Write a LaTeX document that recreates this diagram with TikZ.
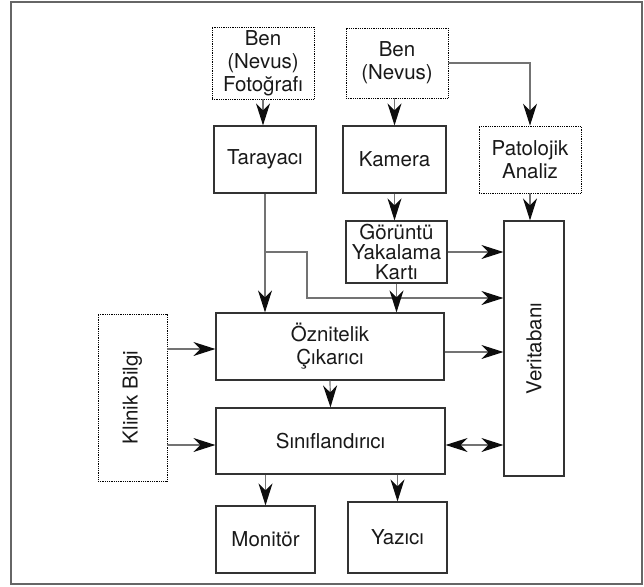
\documentclass[tikz,border=0pt]{standalone}
\usepackage{fontspec}
\setmainfont{TeX Gyre Heros}
\usetikzlibrary{arrows.meta,calc}
\tikzset{
  box/.style={draw=black!80, line width=1.2pt, rectangle, inner sep=0pt, align=center,
    font=\fontsize{20.5}{23}\selectfont, text=black!90},
  dbox/.style={box, draw=black, line width=0.8pt, densely dotted},
  conn/.style={draw=black!55, line width=1.2pt},
  tip/.style={},
  arr/.style={conn, -{Stealth[length=22pt,width=14pt,inset=7pt,color=black!95]}},
  darr/.style={conn, {Stealth[length=22pt,width=14pt,inset=7pt,color=black!95]}-{Stealth[length=22pt,width=14pt,inset=7pt,color=black!95]}},
}
\begin{document}
\begin{tikzpicture}[x=1pt,y=-1pt]
\useasboundingbox (0,0) rectangle (644,586);
\draw[draw=black!60, line width=1.2pt] (11,2) rectangle (642,584);

\node[dbox, minimum width=102pt, minimum height=72pt] (benf) at (263,63) {Ben\\(Nevus)\\Fotoğrafı};
\node[dbox, minimum width=102pt, minimum height=70pt] (bn) at (397,63) {Ben\\(Nevus)};
\node[box, minimum width=102pt, minimum height=67pt] (tar) at (265,159.5) {Tarayacı};
\node[box, minimum width=103pt, minimum height=67pt] (kam) at (394.5,159.5) {Kamera};
\node[dbox, minimum width=102pt, minimum height=67pt] (pat) at (530,159.5) {Patolojik\\Analiz};
\node[box, minimum width=101pt, minimum height=62pt, font=\fontsize{20.5}{20}\selectfont] (gor) at (396.5,252) {Görüntü\\Yakalama\\Kartı};
\node[box, minimum width=60pt, minimum height=255pt] (vt) at (534,348.5) {};
\node[rotate=90, font=\fontsize{20.5}{23}\selectfont, text=black!90] (vtl) at (vt.center) {Veritabanı};
\node[box, minimum width=228pt, minimum height=67pt] (ozn) at (330,346.5) {Öznitelik\\Çıkarıcı};
\node[dbox, minimum width=69pt, minimum height=167pt] (kb) at (132.5,397.5) {};
\node[rotate=90, font=\fontsize{20.5}{23}\selectfont, text=black!90] (kbl) at (kb.center) {Klinik Bilgi};
\node[box, minimum width=229pt, minimum height=66pt] (sin) at (330.5,441) {Sınıflandırıcı};
\node[box, minimum width=99pt, minimum height=67pt] (mon) at (265.5,539.5) {Monitör};
\node[box, minimum width=99pt, minimum height=71pt] (yaz) at (397.5,537.5) {Yazıcı};

\coordinate (j1) at (tar.south |- gor.east);
\coordinate (k1) at (307,298);

\draw[arr] (benf.south) -- (benf.south |- tar.north);
\draw[arr] (kam.north |- bn.south) -- (kam.north);
\draw[arr] (bn.east) -| (pat.north);
\draw[arr] (kam.south) -- (kam.south |- gor.north);
\draw[arr] (pat.south) -- (pat.south |- vt.north);
\draw[arr] (tar.south) -- (tar.south |- ozn.north);
\draw[arr] (j1) -| (k1) -- (k1 -| vt.west);
\draw[arr] (gor.east) -- (gor.east -| vt.west);
\draw[arr] (gor.south) -- (gor.south |- ozn.north);
\draw[arr] (kb.east |- 0,349) -- (ozn.west |- 0,349);
\draw[arr] (ozn.east |- 0,352) -- (vt.west |- 0,352);
\draw[arr] (ozn.south) -- (sin.north);
\draw[arr] (kb.east |- 0,445) -- (sin.west |- 0,445);
\draw[darr] (sin.east |- 0,445) -- (vt.west |- 0,445);
\draw[arr] (mon.north |- sin.south) -- (mon.north);
\draw[arr] (yaz.north |- sin.south) -- (yaz.north);
\end{tikzpicture}
\end{document}
